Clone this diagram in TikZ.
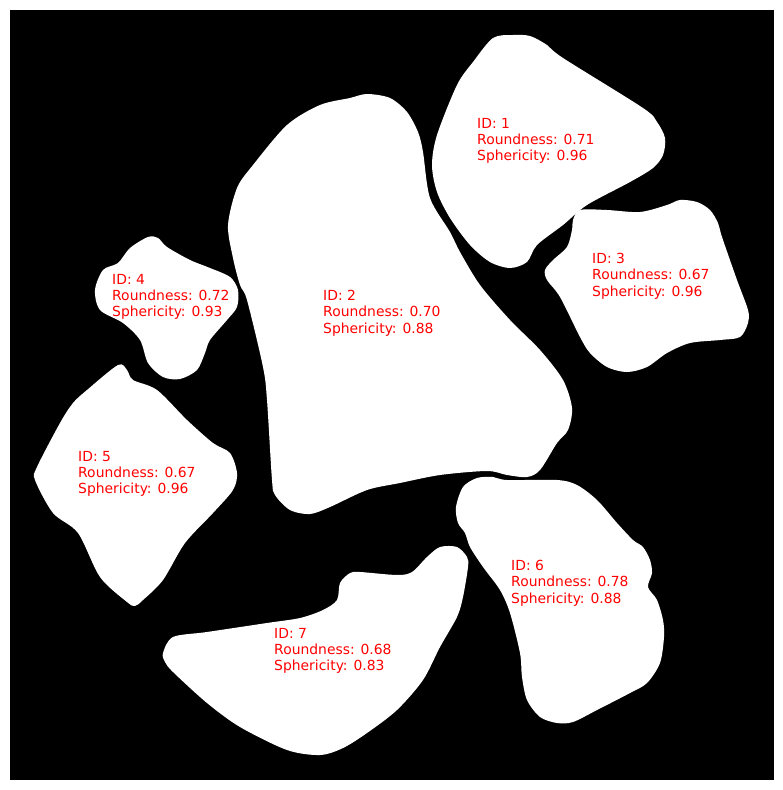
\documentclass[tikz,border=0pt]{standalone}
\usepackage{fontspec}
\setmainfont{DejaVu Sans}
\begin{document}
\begin{tikzpicture}[x=1pt,y=-1pt,
  grain/.style={fill=white,draw=none},
  lbl/.style={anchor=west,align=left,inner sep=0pt,text=red,font=\fontsize{13.9}{16.3}\selectfont}]
\useasboundingbox (0,0) rectangle (783,790);
\fill[white] (0,0) rectangle (783,790);
\fill[black] (10,10) rectangle (774,780);
% grain 1
\fill[grain] plot[smooth cycle,tension=0.5] coordinates {(493,38) (513,35) (530,36) (547,45) (563,58) (643,108) (657,122) (665,138) (663,155) (653,168) (630,182) (587,205) (563,225) (537,245) (527,262) (510,268) (490,262) (470,245) (450,218) (437,192) (432,165) (437,135) (457,85) (473,62)};
% grain 2
\fill[grain] plot[smooth cycle,tension=0.5] coordinates {(287,125) (320,105) (350,98) (367,94) (390,98) (407,112) (418,132) (423,152) (430,198) (450,232) (460,252) (480,285) (510,320) (540,350) (563,380) (572,408) (568,430) (557,443) (540,470) (527,477) (507,475) (487,471) (440,475) (400,483) (367,490) (330,507) (310,514) (290,510) (275,495) (272,480) (267,400) (263,367) (247,300) (240,285) (233,258) (228,225) (237,188) (253,165)};
% grain 3
\fill[grain] plot[smooth cycle,tension=0.5] coordinates {(580,210) (607,210) (640,212) (667,205) (680,200) (697,202) (710,210) (718,223) (722,237) (737,280) (748,310) (748,323) (740,337) (720,340) (690,343) (667,353) (647,367) (627,372) (607,367) (590,353) (580,337) (560,297) (547,280) (545,270) (553,260) (567,247) (572,230) (573,220)};
% grain 4
\fill[grain] plot[smooth cycle,tension=0.5] coordinates {(148,237) (130,248) (118,263) (103,270) (95,290) (100,310) (123,323) (140,340) (148,363) (163,377) (180,379) (197,370) (205,353) (210,340) (227,320) (237,307) (238,290) (230,277) (210,268) (190,260) (167,247) (158,238)};
% grain 5
\fill[grain] plot[smooth cycle,tension=0.5] coordinates {(118,365) (87,390) (73,403) (60,423) (37,467) (35,480) (53,513) (78,533) (100,577) (127,602) (135,606) (143,600) (163,580) (185,543) (213,513) (233,490) (237,473) (230,453) (213,443) (187,420) (157,390) (133,380) (127,370)};
% grain 6
\fill[grain] plot[smooth cycle,tension=0.5] coordinates {(463,487) (477,478) (493,477) (507,480) (557,480) (577,485) (597,500) (617,523) (633,540) (643,547) (650,560) (652,573) (648,587) (657,600) (663,620) (664,637) (660,663) (647,683) (630,693) (597,710) (573,722) (557,723) (540,717) (527,700) (522,677) (520,653) (510,613) (500,590) (483,567) (470,547) (465,533) (458,523) (456,507)};
% grain 7
\fill[grain] plot[smooth cycle,tension=0.5] coordinates {(163,653) (173,637) (207,632) (267,623) (300,618) (323,610) (337,600) (340,583) (350,573) (360,572) (397,575) (412,572) (427,557) (440,547) (457,547) (467,557) (468,567) (463,597) (457,617) (440,647) (423,680) (397,710) (367,733) (343,748) (320,755) (287,750) (240,727) (207,703) (173,672) (165,662)};
% labels
\node[lbl] (t1) at (477,141) {ID: 1\\Roundness: 0.71\\Sphericity: 0.96};
\node[lbl] (t2) at (323,313) {ID: 2\\Roundness: 0.70\\Sphericity: 0.88};
\node[lbl] (t3) at (592,276) {ID: 3\\Roundness: 0.67\\Sphericity: 0.96};
\node[lbl] (t4) at (112,297) {ID: 4\\Roundness: 0.72\\Sphericity: 0.93};
\node[lbl] (t5) at (78,474) {ID: 5\\Roundness: 0.67\\Sphericity: 0.96};
\node[lbl] (t6) at (511,583) {ID: 6\\Roundness: 0.78\\Sphericity: 0.88};
\node[lbl] (t7) at (274,651) {ID: 7\\Roundness: 0.68\\Sphericity: 0.83};
\end{tikzpicture}
\end{document}
